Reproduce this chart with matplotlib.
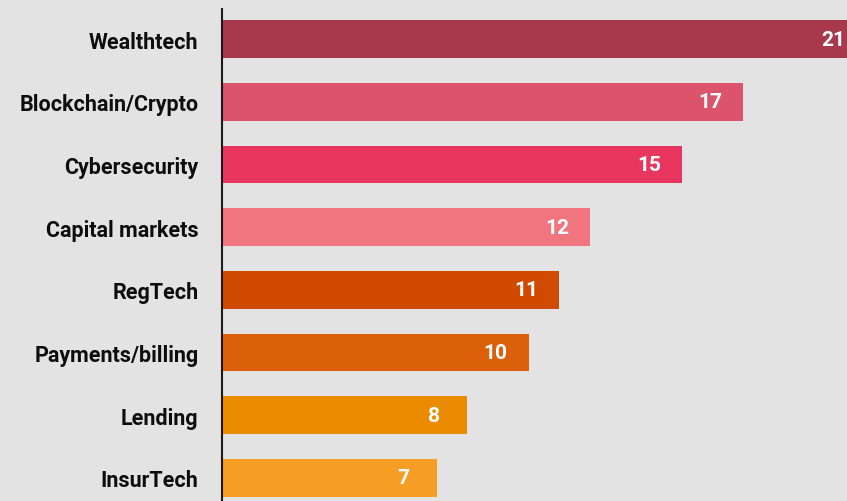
import matplotlib.pyplot as plt

# Fintech segments and their counts
categories = ['Wealthtech', 'Blockchain/Crypto', 'Cybersecurity', 'Capital markets',
              'RegTech', 'Payments/billing', 'Lending', 'InsurTech']
values = [21, 17, 15, 12, 11, 10, 8, 7]
colors = ['#a8384b', '#dc546b', '#e8365e', '#f0757f',
          '#d04a02', '#dc6009', '#eb8c00', '#f59d25']

bg = '#e3e3e3'
label_font = ['Roboto', 'DejaVu Sans']

fig = plt.figure(figsize=(8.47, 5.02), dpi=100, facecolor=bg)
ax = fig.add_axes([0.2621, 0.0, 0.7379, 0.980])
ax.set_facecolor(bg)

pos = list(range(len(categories)))
ax.barh(pos, values, height=0.6, color=colors, zorder=2)

ax.set_xlim(0, 20.38)
ax.set_ylim(7.37, -0.48)

# value labels inside the bars
for y, v in zip(pos, values):
    ax.text(v - 1.08, y, str(v), ha='center', va='center', color='white',
            fontsize=15, fontweight='bold', family=label_font, zorder=3)

ax.set_yticks(pos)
ax.set_yticklabels(categories, fontsize=15.5, fontweight='bold', family=label_font,
                   color='#0d0d0d')
ax.tick_params(axis='y', length=0, pad=17)
ax.set_xticks([])

for side in ['top', 'right', 'bottom']:
    ax.spines[side].set_visible(False)
ax.spines['left'].set_color('#1a1a1a')
ax.spines['left'].set_linewidth(1.5)
ax.spines['left'].set_zorder(4)

fig.savefig('out.png', dpi=100, facecolor=bg)
